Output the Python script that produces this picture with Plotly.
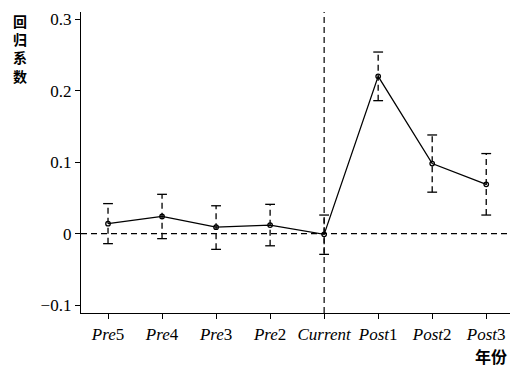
import plotly.graph_objects as go

categories = ["Pre5", "Pre4", "Pre3", "Pre2", "Current", "Post1", "Post2", "Post3"]
tick_labels = ["<i>Pre</i>5", "<i>Pre</i>4", "<i>Pre</i>3", "<i>Pre</i>2",
               "<i>Current</i>", "<i>Post</i>1", "<i>Post</i>2", "<i>Post</i>3"]
coef = [0.014, 0.024, 0.009, 0.012, -0.001, 0.220, 0.098, 0.069]
ci_low = [-0.014, -0.007, -0.022, -0.017, -0.029, 0.186, 0.058, 0.026]
ci_high = [0.042, 0.055, 0.039, 0.041, 0.026, 0.254, 0.138, 0.112]
y_ticks = [-0.1, 0, 0.1, 0.2, 0.3]
y_tick_text = ["\u22120.1", "0", "0.1", "0.2", "0.3"]
y_title_chars = ["回", "归", "系", "数"]
x_title = "年份"

xs = list(range(len(categories)))

L, R, T, B = 81, 0, 12, 54
W, H = 510, 367
pw, ph = W - L - R, H - T - B

fig = go.Figure()

# dashed error bars
ex, ey = [], []
for x, lo, hi in zip(xs, ci_low, ci_high):
    ex += [x, x, None]
    ey += [lo, hi, None]
fig.add_trace(go.Scatter(x=ex, y=ey, mode="lines",
                         line=dict(color="black", width=1.3, dash="6px,4px"),
                         hoverinfo="skip", showlegend=False))
# caps
fig.add_trace(go.Scatter(x=xs + xs, y=ci_low + ci_high, mode="markers",
                         marker=dict(symbol="line-ew", size=7,
                                     line=dict(color="black", width=1.3)),
                         hoverinfo="skip", showlegend=False))
# main line
fig.add_trace(go.Scatter(x=xs, y=coef, mode="lines+markers",
                         line=dict(color="black", width=1.3),
                         marker=dict(symbol="circle-open", size=4.5,
                                     line=dict(color="black", width=1.3)),
                         showlegend=False))

fig.add_hline(y=0, line=dict(color="black", width=1.2, dash="6px,4px"))
fig.add_vline(x=categories.index("Current"), line=dict(color="black", width=1.2, dash="6px,4px"))

annotations = [
    dict(text="<b>" + "<br>".join(y_title_chars) + "</b>", xref="paper", yref="paper",
         x=(20 - L) / pw, y=1 - (48 - T) / ph, xanchor="center", yanchor="middle",
         showarrow=False, borderpad=0, align="center",
         font=dict(family="Noto Sans CJK SC", size=14, color="black")),
    dict(text="<b>" + x_title + "</b>", xref="paper", yref="paper",
         x=(508 - L) / pw, y=-(356 - (T + ph)) / ph, xanchor="right", yanchor="middle",
         showarrow=False, borderpad=0,
         font=dict(family="Noto Sans CJK SC", size=16, color="black")),
]

fig.update_layout(
    width=W, height=H,
    margin=dict(l=L, r=R, t=T, b=B, autoexpand=False),
    plot_bgcolor="white", paper_bgcolor="white",
    font=dict(family="Liberation Serif, Times New Roman, serif", size=17, color="black"),
    xaxis=dict(range=[-0.5, 7.44], tickvals=xs, ticktext=tick_labels,
               automargin=False,
               showline=True, linecolor="black", linewidth=1.3,
               ticks="outside", ticklen=5, tickwidth=1.3, tickcolor="black",
               showgrid=False, zeroline=False),
    yaxis=dict(range=[-0.111, 0.31], tickvals=y_ticks, ticktext=y_tick_text,
               automargin=False,
               showline=True, linecolor="black", linewidth=1.3,
               ticks="outside", ticklen=5, tickwidth=1.3, tickcolor="black",
               showgrid=False, zeroline=False),
    annotations=annotations,
)

fig.write_html("out.html", config={"displayModeBar": False},
               post_script="document.body.style.margin='0';document.body.style.padding='0';document.body.style.overflow='hidden';")
